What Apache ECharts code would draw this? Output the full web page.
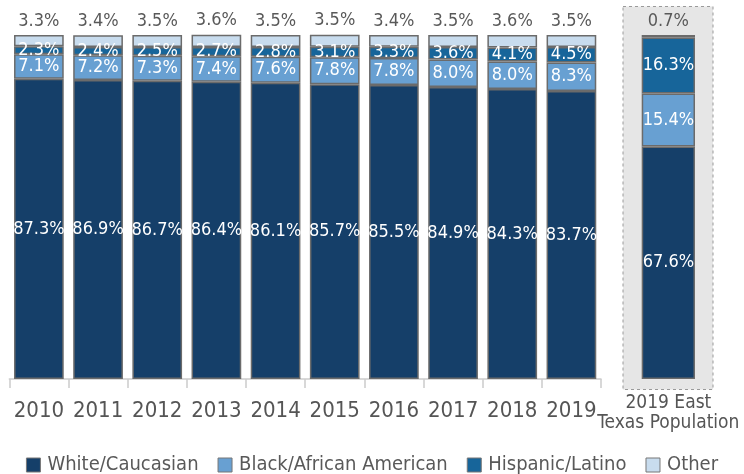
<!DOCTYPE html>
<html>
<head>
<meta charset="utf-8">
<script src="https://cdn.jsdelivr.net/npm/echarts@6/dist/echarts.min.js"></script>
<style>
html,body{margin:0;padding:0;background:#fff;}
#chart{width:744px;height:474px;}
</style>
</head>
<body>
<div id="chart"></div>
<script>
const years = ['2010','2011','2012','2013','2014','2015','2016','2017','2018','2019'];
const white = [87.3, 86.9, 86.7, 86.4, 86.1, 85.7, 85.5, 84.9, 84.3, 83.7];
const black = [7.1, 7.2, 7.3, 7.4, 7.6, 7.8, 7.8, 8.0, 8.0, 8.3];
const hispanic = [2.3, 2.4, 2.5, 2.7, 2.8, 3.1, 3.3, 3.6, 4.1, 4.5];
const other = [3.3, 3.4, 3.5, 3.6, 3.5, 3.5, 3.4, 3.5, 3.6, 3.5];
const eastCategory = ['2019 East\nTexas Population'];
const eastWhite = [67.6];
const eastBlack = [15.4];
const eastHispanic = [16.3];
const eastOther = [0.7];
const seriesNames = ['White/Caucasian', 'Black/African American', 'Hispanic/Latino', 'Other'];

const FONT = "'DejaVu Sans Condensed', 'Liberation Sans Narrow', sans-serif";
const colors = ['#153f69', '#68a0d2', '#17659a', '#c8dcee'];
const fmt = p => p.value.toFixed(1) + '%';

function mk(name, data, idx, colorIdx, inside) {
  return {
    name: name,
    type: 'bar',
    stack: 's' + idx,
    xAxisIndex: idx, yAxisIndex: idx,
    data: data,
    barWidth: idx === 0 ? '84%' : '100%',
    itemStyle: { color: colors[colorIdx], borderColor: '#6b6b6b', borderWidth: 1.5 },
    label: inside ? {
      show: true, position: 'inside', formatter: fmt,
      color: '#ffffff', fontSize: 18, fontFamily: FONT
    } : {
      show: true, position: 'top', distance: 5, formatter: fmt,
      color: '#595959', fontSize: 18, fontFamily: FONT
    }
  };
}

const chart = echarts.init(document.getElementById('chart'), null, { renderer: 'canvas' });
chart.setOption({
  backgroundColor: '#ffffff',
  animation: false,
  graphic: [{
    type: 'rect', z: -10,
    shape: { x: 623, y: 6.5, width: 90, height: 383 },
    style: { fill: '#e6e6e6', stroke: '#9a9a9a', lineWidth: 1, lineDash: [3, 3] }
  }],
  legend: {
    data: seriesNames,
    left: 'center', top: 450,
    icon: 'rect', itemWidth: 14, itemHeight: 14, itemGap: 19,
    textStyle: { color: '#595959', fontSize: 20, fontFamily: FONT, padding: [0, 0, 0, 2] },
    itemStyle: { borderColor: '#777', borderWidth: 1 }
  },
  grid: [
    { left: 9.3, right: 143, top: 35, bottom: 95 },
    { left: 641.7, width: 53.3, top: 35, bottom: 95 }
  ],
  xAxis: [{
    type: 'category', gridIndex: 0, data: years,
    axisLine: { lineStyle: { color: '#cccccc', width: 1.5 } },
    axisTick: { show: true, length: 9, lineStyle: { color: '#cccccc', width: 1.5 } },
    axisLabel: { color: '#555555', fontSize: 22, fontFamily: FONT, margin: 21, interval: 0 }
  }, {
    type: 'category', gridIndex: 1, data: eastCategory,
    axisLine: { show: false }, axisTick: { show: false },
    axisLabel: { color: '#555555', fontSize: 19, lineHeight: 20, fontFamily: FONT, margin: 14, interval: 0 }
  }],
  yAxis: [
    { type: 'value', gridIndex: 0, min: 0, max: 100, show: false },
    { type: 'value', gridIndex: 1, min: 0, max: 100, show: false }
  ],
  series: [
    mk(seriesNames[0], white, 0, 0, true),
    mk(seriesNames[1], black, 0, 1, true),
    mk(seriesNames[2], hispanic, 0, 2, true),
    mk(seriesNames[3], other, 0, 3, false),
    mk(seriesNames[0], eastWhite, 1, 0, true),
    mk(seriesNames[1], eastBlack, 1, 1, true),
    mk(seriesNames[2], eastHispanic, 1, 2, true),
    mk(seriesNames[3], eastOther, 1, 3, false)
  ]
});
</script>
</body>
</html>
